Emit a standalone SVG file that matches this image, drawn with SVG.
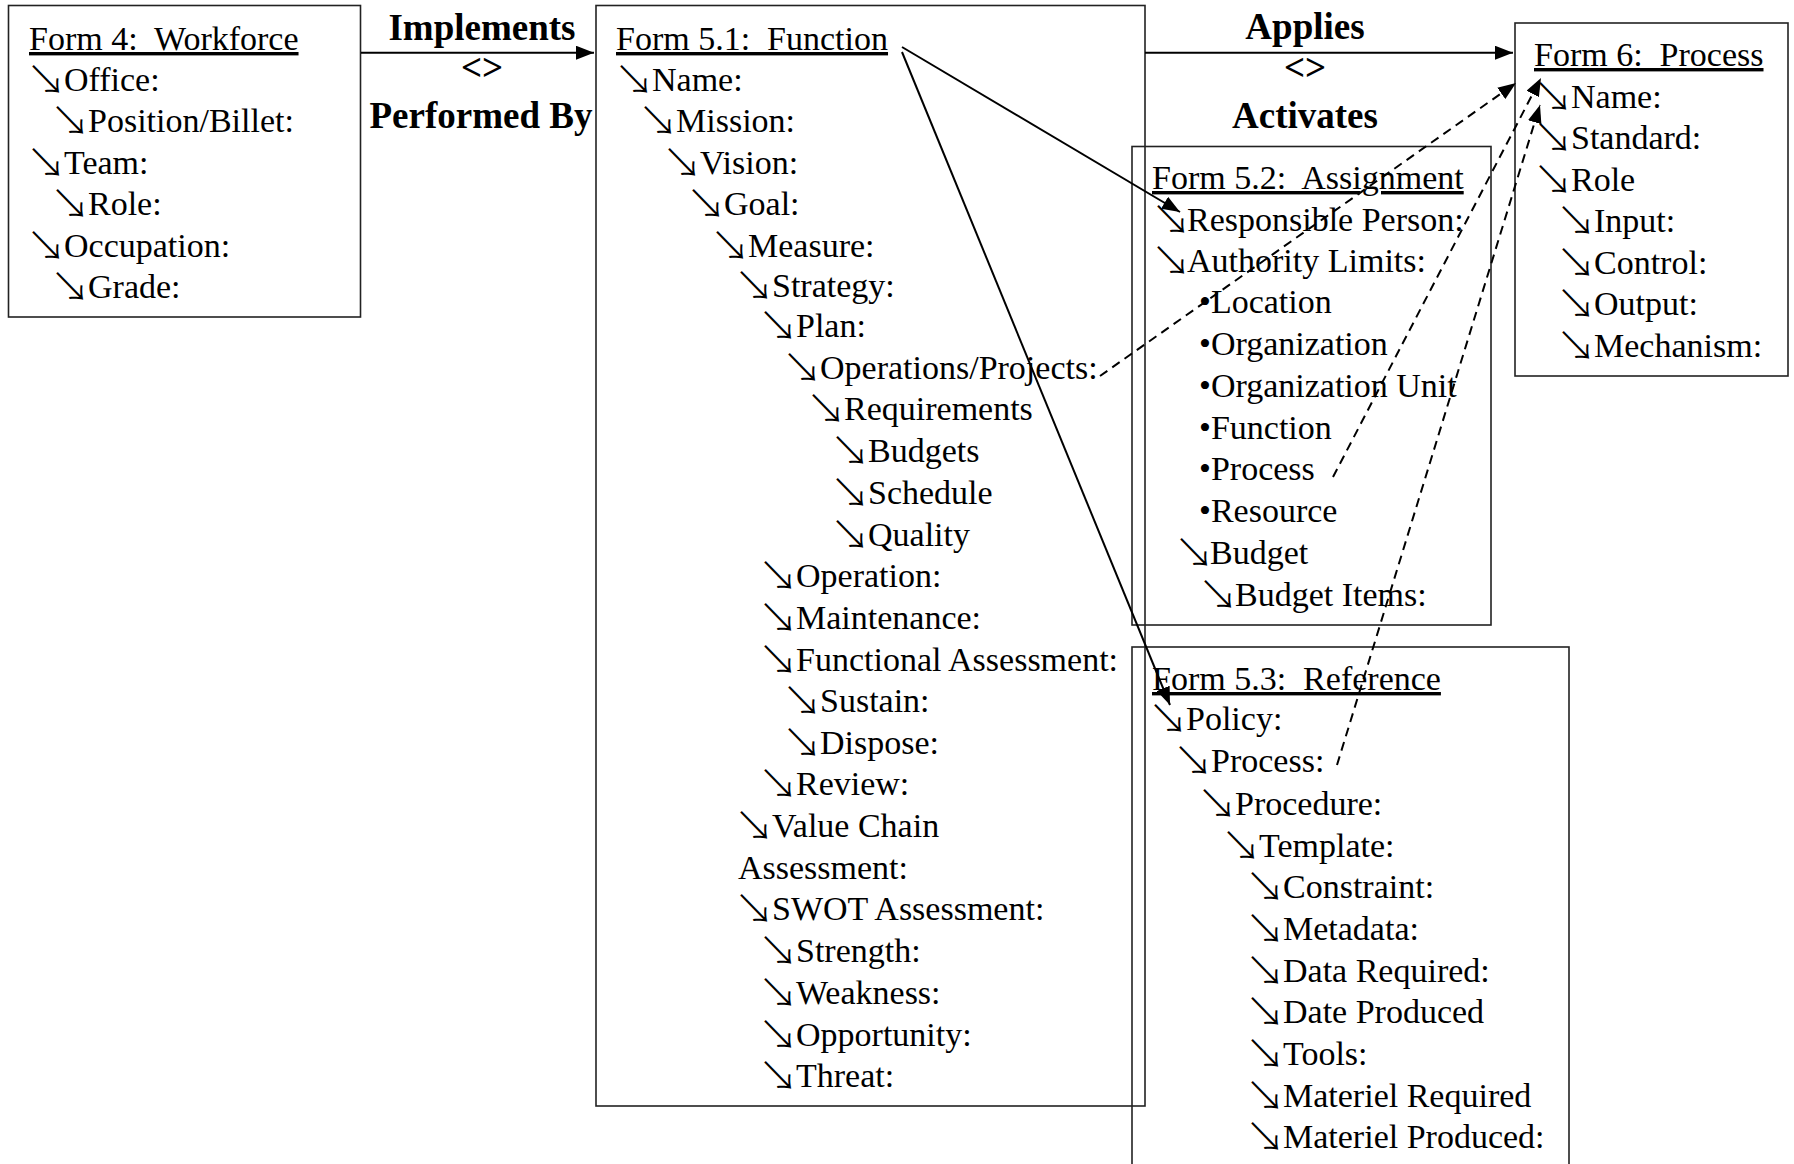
<svg xmlns="http://www.w3.org/2000/svg" width="1794" height="1164" viewBox="0 0 1794 1164">
<defs>
<style>
.t{font-family:"Liberation Serif","Times New Roman",serif;font-size:34px;fill:#000}
.u{text-decoration:underline}
.a{font-family:"Liberation Serif","Noto Sans CJK JP","Noto Sans CJK SC",sans-serif;font-size:40px;font-weight:300}
.b{font-family:"Liberation Serif","Times New Roman",serif;font-size:37px;font-weight:bold;text-anchor:middle;fill:#000}
.box{fill:none;stroke:#222;stroke-width:1.6}
.ln{fill:none;stroke:#000;stroke-width:2}
.dash{stroke-dasharray:9 6}
</style>
<marker id="ah" viewBox="0 0 18 14" refX="18" refY="7" markerWidth="18" markerHeight="14" markerUnits="userSpaceOnUse" orient="auto"><path d="M0,0 L18,7 L0,14 z" fill="#000"/></marker>
</defs>
<rect x="0" y="0" width="1794" height="1164" fill="#fff"/>

<g id="form4">
<rect class="box" x="8.5" y="5.5" width="352" height="311.5"/>
<text class="t u" x="29" y="50">Form 4:&#160; Workforce</text>
<text class="t"><tspan class="a" x="26" y="94">↘</tspan><tspan x="64" y="91">Office:</tspan></text>
<text class="t"><tspan class="a" x="50" y="135">↘</tspan><tspan x="88" y="132">Position/Billet:</tspan></text>
<text class="t"><tspan class="a" x="26" y="177">↘</tspan><tspan x="64" y="174">Team:</tspan></text>
<text class="t"><tspan class="a" x="50" y="218">↘</tspan><tspan x="88" y="215">Role:</tspan></text>
<text class="t"><tspan class="a" x="26" y="260">↘</tspan><tspan x="64" y="257">Occupation:</tspan></text>
<text class="t"><tspan class="a" x="50" y="301">↘</tspan><tspan x="88" y="298">Grade:</tspan></text>
</g>

<g id="form5-1">
<rect class="box" x="596" y="5.5" width="549" height="1100.5"/>
<text class="t u" x="616" y="50">Form 5.1:&#160; Function</text>
<text class="t"><tspan class="a" x="614" y="94">↘</tspan><tspan x="652" y="91">Name:</tspan></text>
<text class="t"><tspan class="a" x="638" y="135">↘</tspan><tspan x="676" y="132">Mission:</tspan></text>
<text class="t"><tspan class="a" x="662" y="177">↘</tspan><tspan x="700" y="174">Vision:</tspan></text>
<text class="t"><tspan class="a" x="686" y="218">↘</tspan><tspan x="724" y="215">Goal:</tspan></text>
<text class="t"><tspan class="a" x="710" y="260">↘</tspan><tspan x="748" y="257">Measure:</tspan></text>
<text class="t"><tspan class="a" x="734" y="300">↘</tspan><tspan x="772" y="297">Strategy:</tspan></text>
<text class="t"><tspan class="a" x="758" y="340">↘</tspan><tspan x="796" y="337">Plan:</tspan></text>
<text class="t"><tspan class="a" x="782" y="382">↘</tspan><tspan x="820" y="379">Operations/Projects:</tspan></text>
<text class="t"><tspan class="a" x="806" y="423">↘</tspan><tspan x="844" y="420">Requirements</tspan></text>
<text class="t"><tspan class="a" x="830" y="465">↘</tspan><tspan x="868" y="462">Budgets</tspan></text>
<text class="t"><tspan class="a" x="830" y="507">↘</tspan><tspan x="868" y="504">Schedule</tspan></text>
<text class="t"><tspan class="a" x="830" y="549">↘</tspan><tspan x="868" y="546">Quality</tspan></text>
<text class="t"><tspan class="a" x="758" y="590">↘</tspan><tspan x="796" y="587">Operation:</tspan></text>
<text class="t"><tspan class="a" x="758" y="632">↘</tspan><tspan x="796" y="629">Maintenance:</tspan></text>
<text class="t"><tspan class="a" x="758" y="674">↘</tspan><tspan x="796" y="671">Functional Assessment:</tspan></text>
<text class="t"><tspan class="a" x="782" y="715">↘</tspan><tspan x="820" y="712">Sustain:</tspan></text>
<text class="t"><tspan class="a" x="782" y="757">↘</tspan><tspan x="820" y="754">Dispose:</tspan></text>
<text class="t"><tspan class="a" x="758" y="798">↘</tspan><tspan x="796" y="795">Review:</tspan></text>
<text class="t"><tspan class="a" x="734" y="840">↘</tspan><tspan x="772" y="837">Value Chain</tspan></text>
<text class="t" x="738" y="879">Assessment:</text>
<text class="t"><tspan class="a" x="734" y="923">↘</tspan><tspan x="772" y="920">SWOT Assessment:</tspan></text>
<text class="t"><tspan class="a" x="758" y="965">↘</tspan><tspan x="796" y="962">Strength:</tspan></text>
<text class="t"><tspan class="a" x="758" y="1007">↘</tspan><tspan x="796" y="1004">Weakness:</tspan></text>
<text class="t"><tspan class="a" x="758" y="1049">↘</tspan><tspan x="796" y="1046">Opportunity:</tspan></text>
<text class="t"><tspan class="a" x="758" y="1090">↘</tspan><tspan x="796" y="1087">Threat:</tspan></text>
</g>

<g id="form5-2">
<rect class="box" x="1132" y="146.5" width="359" height="478.5"/>
<text class="t u" x="1152" y="189">Form 5.2:&#160; Assignment</text>
<text class="t"><tspan class="a" x="1151" y="234">↘</tspan><tspan x="1187" y="231">Responsible Person:</tspan></text>
<text class="t"><tspan class="a" x="1151" y="275">↘</tspan><tspan x="1187" y="272">Authority Limits:</tspan></text>
<text class="t" x="1199" y="313">•Location</text>
<text class="t" x="1199" y="355">•Organization</text>
<text class="t" x="1199" y="397">•Organization Unit</text>
<text class="t" x="1199" y="439">•Function</text>
<text class="t" x="1199" y="480">•Process</text>
<text class="t" x="1199" y="522">•Resource</text>
<text class="t"><tspan class="a" x="1174" y="567">↘</tspan><tspan x="1210" y="564">Budget</tspan></text>
<text class="t"><tspan class="a" x="1198" y="609">↘</tspan><tspan x="1235" y="606">Budget Items:</tspan></text>
</g>

<g id="form5-3">
<rect class="box" x="1132" y="647" width="437" height="560"/>
<text class="t u" x="1152" y="690">Form 5.3:&#160; Reference</text>
<text class="t"><tspan class="a" x="1148" y="733">↘</tspan><tspan x="1186" y="730">Policy:</tspan></text>
<text class="t"><tspan class="a" x="1173" y="775">↘</tspan><tspan x="1211" y="772">Process:</tspan></text>
<text class="t"><tspan class="a" x="1197" y="818">↘</tspan><tspan x="1235" y="815">Procedure:</tspan></text>
<text class="t"><tspan class="a" x="1221" y="860">↘</tspan><tspan x="1259" y="857">Template:</tspan></text>
<text class="t"><tspan class="a" x="1245" y="901">↘</tspan><tspan x="1283" y="898">Constraint:</tspan></text>
<text class="t"><tspan class="a" x="1245" y="943">↘</tspan><tspan x="1283" y="940">Metadata:</tspan></text>
<text class="t"><tspan class="a" x="1245" y="985">↘</tspan><tspan x="1283" y="982">Data Required:</tspan></text>
<text class="t"><tspan class="a" x="1245" y="1026">↘</tspan><tspan x="1283" y="1023">Date Produced</tspan></text>
<text class="t"><tspan class="a" x="1245" y="1068">↘</tspan><tspan x="1283" y="1065">Tools:</tspan></text>
<text class="t"><tspan class="a" x="1245" y="1110">↘</tspan><tspan x="1283" y="1107">Materiel Required</tspan></text>
<text class="t"><tspan class="a" x="1245" y="1151">↘</tspan><tspan x="1283" y="1148">Materiel Produced:</tspan></text>
</g>

<g id="form6">
<rect class="box" x="1515" y="23" width="273" height="353"/>
<text class="t u" x="1534" y="66">Form 6:&#160; Process</text>
<text class="t"><tspan class="a" x="1533" y="111">↘</tspan><tspan x="1571" y="108">Name:</tspan></text>
<text class="t"><tspan class="a" x="1533" y="152">↘</tspan><tspan x="1571" y="149">Standard:</tspan></text>
<text class="t"><tspan class="a" x="1533" y="194">↘</tspan><tspan x="1571" y="191">Role</tspan></text>
<text class="t"><tspan class="a" x="1556" y="235">↘</tspan><tspan x="1594" y="232">Input:</tspan></text>
<text class="t"><tspan class="a" x="1556" y="277">↘</tspan><tspan x="1594" y="274">Control:</tspan></text>
<text class="t"><tspan class="a" x="1556" y="318">↘</tspan><tspan x="1594" y="315">Output:</tspan></text>
<text class="t"><tspan class="a" x="1556" y="360">↘</tspan><tspan x="1594" y="357">Mechanism:</tspan></text>
</g>

<g id="connectors">
<line class="ln" x1="361" y1="52.7" x2="594" y2="52.7" marker-end="url(#ah)"/>
<line class="ln" x1="1145" y1="52.7" x2="1513" y2="52.7" marker-end="url(#ah)"/>
<line class="ln" x1="902" y1="47" x2="1180" y2="212" marker-end="url(#ah)"/>
<line class="ln" x1="902" y1="52" x2="1170" y2="705" marker-end="url(#ah)"/>
<line class="ln dash" x1="1100" y1="376" x2="1516" y2="83" marker-end="url(#ah)"/>
<line class="ln dash" x1="1333" y1="477" x2="1541" y2="78" marker-end="url(#ah)"/>
<line class="ln dash" x1="1337" y1="765" x2="1540" y2="105" marker-end="url(#ah)"/>
<text class="b" x="482" y="40">Implements</text>
<text class="b" x="482" y="80">&lt;&gt;</text>
<text class="b" x="481" y="128">Performed By</text>
<text class="b" x="1305" y="39">Applies</text>
<text class="b" x="1305" y="80">&lt;&gt;</text>
<text class="b" x="1305" y="128">Activates</text>
</g>
</svg>
